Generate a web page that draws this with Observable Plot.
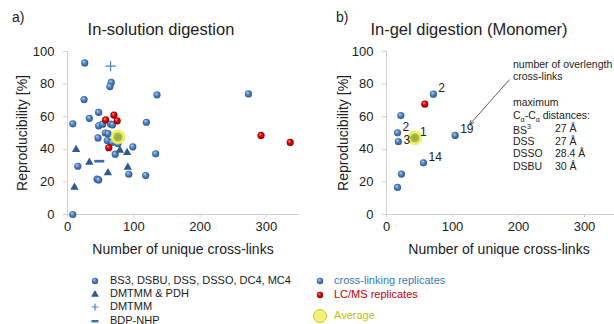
<!DOCTYPE html>
<html><head><meta charset="utf-8">
<script src="https://cdn.jsdelivr.net/npm/d3@7"></script>
<script src="https://cdn.jsdelivr.net/npm/@observablehq/plot@0.6"></script>
<style>
body{margin:0;background:#fff;}
#root{position:relative;width:614px;height:324px;overflow:hidden;font-family:"Liberation Sans",Arial,sans-serif;color:#222;}
.abs{position:absolute;white-space:nowrap;line-height:1;}
.plot{position:absolute;top:0;}
</style></head><body><div id="root"></div>
<script>
// ---------- Data: panel a) In-solution digestion ----------
const solBlueX = [26,66,64,25,135,273,47,33,8,47,53,65,68,119,57,61,46,60,67,76,72,98.5,133,92.5,118,44.5,47,15.6,8];
const solBlueY = [93,81,78.5,70.5,73.4,74,62.6,59,55.6,54.4,55.4,55.5,55,56.6,50,49.6,47,45.4,44.2,43.4,37,41.5,37.2,24.7,23.9,21.7,21.2,29.6,0];
const solRedX = [57.5,70,75,62.3,292,336];
const solRedY = [58,61,57.5,41,48.5,44.2];
const solTriX = [13,10.5,33,61,79,90,91];
const solTriY = [39.8,16.6,32,25.6,39.3,38,29];
const solPlusX = [65];
const solPlusY = [91];
const solDashX = [48];
const solDashY = [32.7];
const solAvgX = [76];
const solAvgY = [47.5];

// ---------- Data: panel b) In-gel digestion (Monomer) ----------
const gelBlueX = [71,21.7,16.7,18,104,56,22.7,16.7];
const gelBlueY = [73.8,60.7,50.1,44.8,48.5,31.7,24.8,16.6];
const gelRedX = [58];
const gelRedY = [67.7];
const gelAvgX = [43];
const gelAvgY = [47];
const gelLabelX = [71,16.7,18,43,104,56];
const gelLabelY = [73.8,50.1,44.8,47,48.5,31.7];
const gelLabelText = ["2","2","3","1","19","14"];
const gelArrow = [{x1:186, y1:82.6, x2:126, y2:55.2}];

const yTicks = [0,20,40,60,80,100];
const xTicks = [0,100,200,300];
const titles = ["In-solution digestion","In-gel digestion (Monomer)"];
const panelTags = ["a)","b)"];
const yLabel = "Reproducibility [%]";
const xLabel = "Number of unique cross-links";
const legendLeft = ["BS3, DSBU, DSS, DSSO, DC4, MC4","DMTMM  & PDH","DMTMM","BDP-NHP"];
const legendRight = ["cross-linking replicates","LC/MS replicates","Average"];
const crossLinkers = ["BS","DSS","DSSO","DSBU"];
const maxDist = ["27 Å","27 Å","28.4 Å","30 Å"];

const zip = (xs, ys) => xs.map((x,i)=>({x, y: ys[i]}));

const dashSymbol = {draw(ctx, size){ const r = Math.sqrt(size/Math.PI); ctx.rect(-r, -r*0.27, 2*r, r*0.54); }};

function addDefs(svg, id){
  const defs = d3.select(svg).insert("defs", ":first-child");
  const g1 = defs.append("radialGradient").attr("id","gBlue"+id).attr("cx",0.5).attr("cy",0.5).attr("r",0.6).attr("fx",0.35).attr("fy",0.3);
  g1.append("stop").attr("offset",0).attr("stop-color","#b5d0f0");
  g1.append("stop").attr("offset",0.45).attr("stop-color","#4f83c2");
  g1.append("stop").attr("offset",1).attr("stop-color","#23497d");
  const g2 = defs.append("radialGradient").attr("id","gRed"+id).attr("cx",0.5).attr("cy",0.5).attr("r",0.6).attr("fx",0.35).attr("fy",0.3);
  g2.append("stop").attr("offset",0).attr("stop-color","#ff9a9a");
  g2.append("stop").attr("offset",0.45).attr("stop-color","#d40000");
  g2.append("stop").attr("offset",1).attr("stop-color","#7a0000");
  const g3 = defs.append("radialGradient").attr("id","gYel"+id).attr("cx",0.5).attr("cy",0.5).attr("r",0.5);
  g3.append("stop").attr("offset",0).attr("stop-color","#8da648");
  g3.append("stop").attr("offset",0.55).attr("stop-color","#a8bb50");
  g3.append("stop").attr("offset",0.75).attr("stop-color","#f4f46a");
  g3.append("stop").attr("offset",1).attr("stop-color","#ecec40");
}

function panel(id, o){
  const marks = [
    Plot.ruleX([0], {y1:0, y2:100, stroke:"#d0d0d0"}),
    Plot.ruleY([0], {x1:0, x2:350, stroke:"#d0d0d0"}),
    Plot.axisY({ticks:yTicks, tickSize:4, tickPadding:9, stroke:"#d0d0d0", fill:"#222", fontSize:13, label:null}),
    Plot.axisX({ticks:xTicks, tickSize:3, tickPadding:4, stroke:"#d0d0d0", fill:"#222", fontSize:13, label:null}),
  ];
  if (o.arrow) marks.push(Plot.arrow(o.arrow, {x1:"x1", y1:"y1", x2:"x2", y2:"y2", stroke:"#333", strokeWidth:0.8, headLength:8, headAngle:50}));
  marks.push(Plot.dot(o.blue, {x:"x", y:"y", r:3.6, fill:`url(#gBlue${id})`}));
  if (o.tri) marks.push(Plot.dot(o.tri, {x:"x", y:"y", r:3.1, symbol:"triangle", fill:"#2d5b96"}));
  marks.push(Plot.dot(o.red, {x:"x", y:"y", r:3.6, fill:`url(#gRed${id})`}));
  if (o.plus) marks.push(Plot.dot(o.plus, {x:"x", y:"y", r:3.4, symbol:"plus", stroke:"#4a86d0", strokeWidth:1.2}));
  if (o.dash) marks.push(Plot.dot(o.dash, {x:"x", y:"y", r:5, symbol:dashSymbol, fill:"#3b6db0"}));
  marks.push(Plot.dot(o.avg, {x:"x", y:"y", r:7, fill:`url(#gYel${id})`, stroke:"#e8e84a", strokeWidth:1, strokeOpacity:0.6}));
  if (o.labels) {
    marks.push(Plot.text(o.labels.filter(d => d.t !== "3"), {x:"x", y:"y", text:"t", dx:5, dy:-6, textAnchor:"start", fontSize:12, fill:"#222"}));
    marks.push(Plot.text(o.labels.filter(d => d.t === "3"), {x:"x", y:"y", text:"t", dx:5, dy:-1, textAnchor:"start", fontSize:12, fill:"#222"}));
  }
  const p = Plot.plot({
    width:o.width, height:240, marginLeft:o.ml, marginRight:o.mr, marginTop:51, marginBottom:26,
    x:{domain:[0,350]}, y:{domain:[0,100]},
    style:{fontFamily:'"Liberation Sans",Arial,sans-serif', background:"transparent", overflow:"visible"},
    marks
  });
  addDefs(p, id);
  p.classList.add("plot");
  p.style.left = o.left + "px";
  return p;
}

const root = document.getElementById("root");
root.appendChild(panel("a", {
  width:307, ml:67, mr:8, left:0,
  blue: zip(solBlueX, solBlueY), red: zip(solRedX, solRedY), tri: zip(solTriX, solTriY),
  plus: zip(solPlusX, solPlusY), dash: zip(solDashX, solDashY), avg: zip(solAvgX, solAvgY)
}));
root.appendChild(panel("b", {
  width:310, ml:79, mr:0, left:307,
  blue: zip(gelBlueX, gelBlueY), red: zip(gelRedX, gelRedY), avg: zip(gelAvgX, gelAvgY),
  labels: gelLabelX.map((x,i)=>({x, y:gelLabelY[i], t:gelLabelText[i]})),
  arrow: gelArrow
}));

function addText(txt, x, y, size, extra){
  const d = document.createElement("div");
  d.className = "abs";
  d.style.left = x + "px"; d.style.top = y + "px"; d.style.fontSize = size + "px";
  if (extra) Object.assign(d.style, extra);
  if (typeof txt === "string") d.textContent = txt; else d.innerHTML = txt.html;
  root.appendChild(d);
  return d;
}
// titles / panel tags
addText(titles[0], 161, 21, 16.5, {transform:"translateX(-50%)"});
addText(titles[1], 469, 21, 16.5, {transform:"translateX(-50%)"});
addText(panelTags[0], 12, 10, 14);
addText(panelTags[1], 336, 10, 14);
// axis labels
addText(yLabel, 22, 133, 14, {transform:"translate(-50%,-50%) rotate(-90deg)"});
addText(yLabel, 343, 133, 14, {transform:"translate(-50%,-50%) rotate(-90deg)"});
addText(xLabel, 183, 242, 14, {transform:"translateX(-50%)"});
addText(xLabel, 499, 242, 14, {transform:"translateX(-50%)"});

// annotation block
const ax1 = 513, ax2 = 555, fs = 10.5;
addText("number of overlength", ax1, 58.5, fs);
addText("cross-links", ax1, 70.5, fs);
addText("maximum", ax1, 97, fs);
addText({html:'C<sub style="font-size:7px">α</sub>-C<sub style="font-size:7px">α</sub> distances:'}, ax1, 110, fs);
crossLinkers.forEach((c,i)=>{
  const d = addText(c, ax1, 123 + i*12.7, fs);
  if (i === 0) { const s = document.createElement("sup"); s.textContent = "3"; s.style.fontSize = "7px"; d.appendChild(s); }
  addText(maxDist[i], ax2, 123 + i*12.7, fs);
});

// legends
function legendIcon(kind){
  const s = d3.create("svg").attr("width",12).attr("height",12);
  const defs = s.append("defs");
  if (kind === "blue" || kind === "red") {
    const g = defs.append("radialGradient").attr("id","lg"+kind).attr("fx",0.35).attr("fy",0.3).attr("r",0.6);
    g.append("stop").attr("offset",0).attr("stop-color", kind==="blue"?"#b5d0f0":"#ff9a9a");
    g.append("stop").attr("offset",0.45).attr("stop-color", kind==="blue"?"#4f83c2":"#d40000");
    g.append("stop").attr("offset",1).attr("stop-color", kind==="blue"?"#23497d":"#7a0000");
    s.append("circle").attr("cx",6).attr("cy",6).attr("r",3.2).attr("fill","url(#lg"+kind+")");
  } else if (kind === "tri") {
    s.append("path").attr("transform","translate(6,6.5)").attr("d", d3.symbol(d3.symbolTriangle, 26)()).attr("fill","#2d5b96");
  } else if (kind === "plus") {
    s.append("path").attr("d","M2.5,6H9.5M6,2.5V9.5").attr("stroke","#4a86d0").attr("stroke-width",1.2);
  } else if (kind === "dash") {
    s.append("rect").attr("x",2.5).attr("y",5).attr("width",7).attr("height",2.4).attr("fill","#3b6db0");
  } else if (kind === "avg") {
    s.attr("width",16).attr("height",16);
    s.append("circle").attr("cx",8).attr("cy",8).attr("r",6.5).attr("fill","#f2f27a").attr("stroke","#c8c820").attr("stroke-width",1);
  }
  return s.node();
}
const leftKinds = ["blue","tri","plus","dash"];
const leftRowsY = [281, 294, 307.3, 320.5];
legendLeft.forEach((t,i)=>{
  const ic = legendIcon(leftKinds[i]); ic.style.position="absolute"; ic.style.left="89px"; ic.style.top=(leftRowsY[i]-6)+"px"; root.appendChild(ic);
  addText(t, 110, leftRowsY[i]-6, 11);
});
const rightKinds = ["blue","red","avg"];
const rightRowsY = [281, 295, 316];
const rightColors = ["#3a78c0","#c00000","#c4c400"];
legendRight.forEach((t,i)=>{
  const ic = legendIcon(rightKinds[i]); ic.style.position="absolute";
  const w = rightKinds[i]==="avg"?16:12;
  ic.style.left=(320-w/2)+"px"; ic.style.top=(rightRowsY[i]-w/2)+"px"; root.appendChild(ic);
  addText(t, 334, rightRowsY[i]-6, 11, {color:rightColors[i]});
});
</script></body></html>
